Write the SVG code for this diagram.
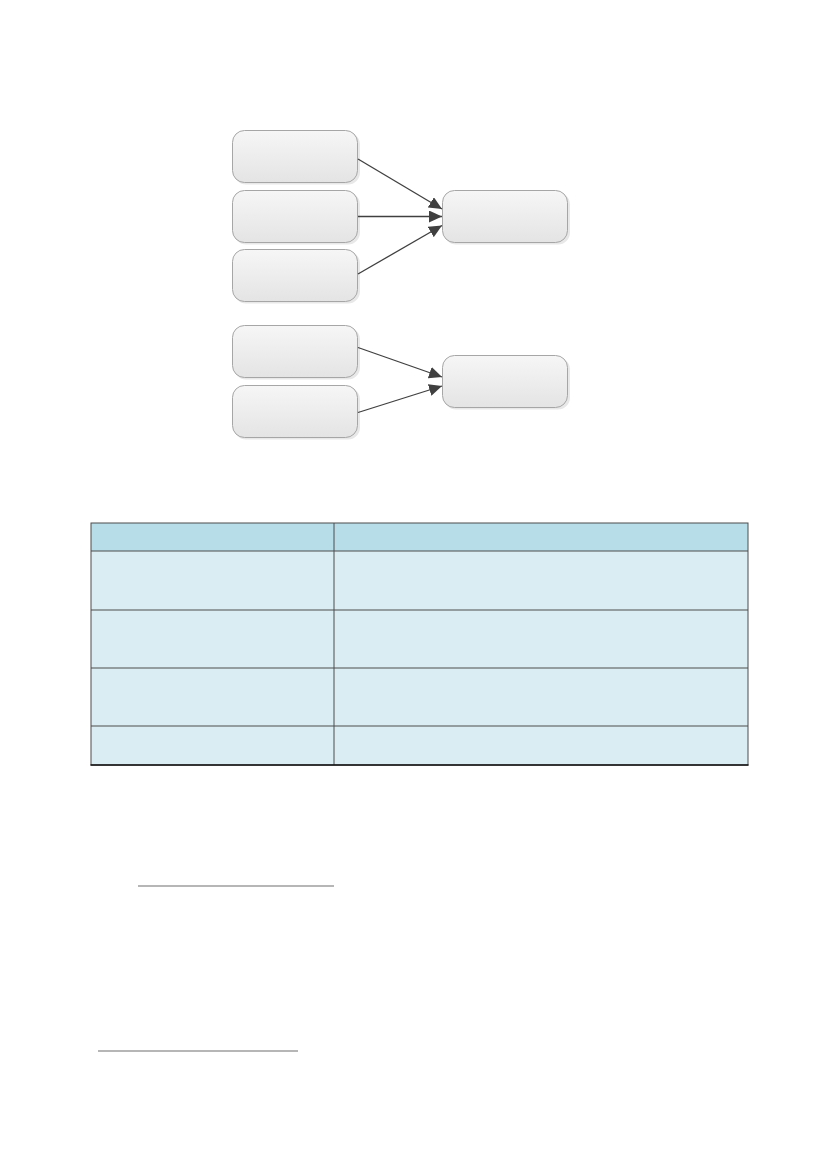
<svg xmlns="http://www.w3.org/2000/svg" width="827" height="1169" viewBox="0 0 827 1169">
<style>
.box{fill:url(#g);stroke:#a6a6a6;stroke-width:1}
.sh{fill:#d9d9d9;opacity:0.6}
.con{stroke:#404040;stroke-width:1.3;fill:none;marker-end:url(#ah)}
.hd{fill:#b7dde8}
.bd{fill:#daedf3}
.grid{stroke:#4d4d4d;stroke-width:1;fill:none}
.rule{stroke:#6e6e6e;stroke-width:1.2}
</style>
<defs>
<linearGradient id="g" x1="0" y1="0" x2="0" y2="1">
<stop offset="0" stop-color="#f6f6f6"/>
<stop offset="1" stop-color="#e4e4e4"/>
</linearGradient>
<marker id="ah" markerWidth="14" markerHeight="12" refX="13" refY="6" orient="auto" markerUnits="userSpaceOnUse">
<path d="M0,0 L13,6 L0,12 Z" fill="#404040"/>
</marker>
</defs>
<rect width="827" height="1169" fill="#ffffff"/>
<g id="n1"><rect class="sh" x="234" y="132.5" width="126" height="52" rx="12"/><rect class="box" x="232.5" y="130.5" width="125" height="52" rx="12"/></g>
<g id="n2"><rect class="sh" x="234" y="192.5" width="126" height="52" rx="12"/><rect class="box" x="232.5" y="190.5" width="125" height="52" rx="12"/></g>
<g id="n3"><rect class="sh" x="234" y="251.5" width="126" height="52" rx="12"/><rect class="box" x="232.5" y="249.5" width="125" height="52" rx="12"/></g>
<g id="n4"><rect class="sh" x="444" y="192.5" width="126" height="52" rx="12"/><rect class="box" x="442.5" y="190.5" width="125" height="52" rx="12"/></g>
<g id="n5"><rect class="sh" x="234" y="327.5" width="126" height="52" rx="12"/><rect class="box" x="232.5" y="325.5" width="125" height="52" rx="12"/></g>
<g id="n6"><rect class="sh" x="234" y="387.5" width="126" height="52" rx="12"/><rect class="box" x="232.5" y="385.5" width="125" height="52" rx="12"/></g>
<g id="n7"><rect class="sh" x="444" y="357.5" width="126" height="52" rx="12"/><rect class="box" x="442.5" y="355.5" width="125" height="52" rx="12"/></g>
<g id="connectors">
<line class="con" x1="358" y1="159" x2="442" y2="209"/>
<line class="con" x1="358" y1="216.5" x2="442" y2="216.5"/>
<line class="con" x1="358" y1="274" x2="442" y2="225.5"/>
<line class="con" x1="358" y1="347.5" x2="442" y2="377"/>
<line class="con" x1="358" y1="412.5" x2="442" y2="386"/>
</g>
<g id="table">
<rect class="hd" x="91" y="523" width="657" height="28"/>
<rect class="bd" x="91" y="551" width="657" height="214"/>
<rect class="grid" x="91" y="523" width="657" height="242"/>
<line class="grid" x1="334" y1="523" x2="334" y2="765"/>
<line class="grid" x1="91" y1="551" x2="748" y2="551"/>
<line class="grid" x1="91" y1="610" x2="748" y2="610" stroke="#7f8f95" stroke-width="1.5"/>
<line class="grid" x1="91" y1="668" x2="748" y2="668"/>
<line class="grid" x1="91" y1="726" x2="748" y2="726"/>
<line x1="90.5" y1="765" x2="748.5" y2="765" stroke="#111" stroke-width="1.5"/>
</g>
<g id="rules">
<line class="rule" x1="138" y1="886" x2="334" y2="886"/>
<line class="rule" x1="98" y1="1051" x2="298" y2="1051"/>
</g>
</svg>
